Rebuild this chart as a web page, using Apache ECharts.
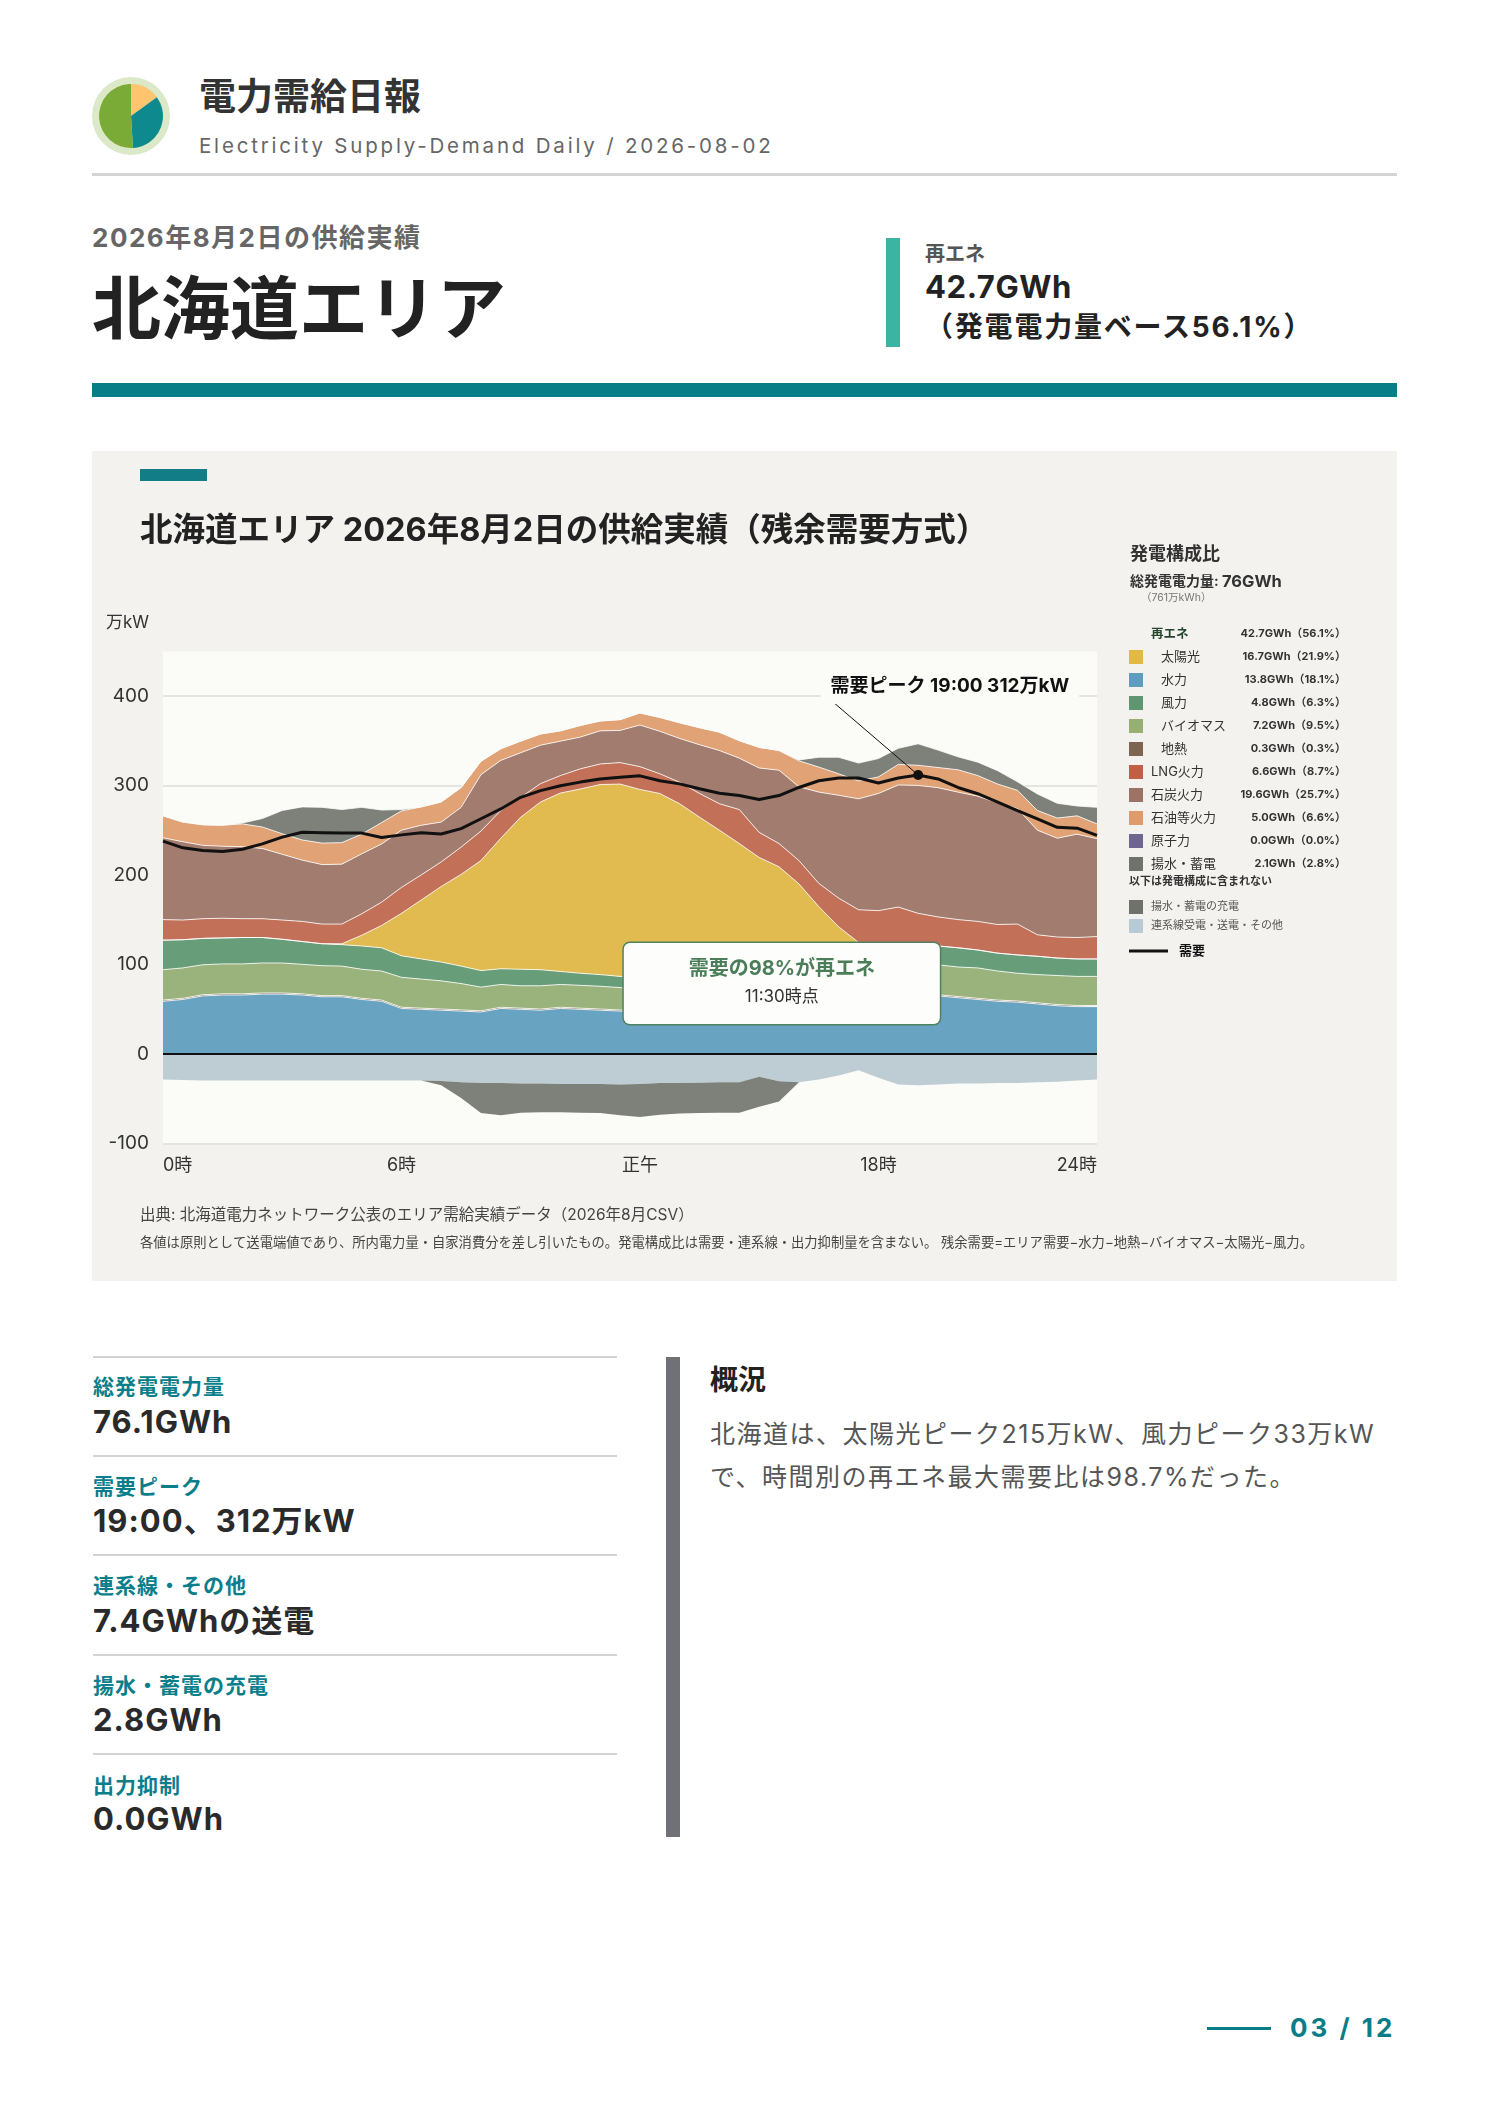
<!DOCTYPE html>
<html lang="ja">
<head>
<meta charset="utf-8">
<title>電力需給日報 北海道エリア 2026-08-02</title>
<script src="https://cdn.jsdelivr.net/npm/echarts@6.0.0/dist/echarts.min.js"></script>
<style>
  html, body { margin: 0; padding: 0; background: #fff; }
  body { position: relative; width: 1488px; height: 2105px; overflow: hidden;
         font-family: Inter, "Noto Sans CJK JP", sans-serif; color: #222; }
  .abs { position: absolute; white-space: nowrap; }
  .b { font-weight: 700; }
  .statLabel { left: 93px; font-size: 21px; line-height: 30px; letter-spacing: 1px; color: #0a7e8b; font-weight: 700; }
  .statValue { left: 93px; font-size: 31px; line-height: 40px; letter-spacing: 1px; color: #2a2a2a; font-weight: 700; }
  .rule { left: 93px; width: 524px; height: 2px; background: #d3d3d3; }
</style>
</head>
<body>

<!-- header -->
<div id="logo" class="abs" style="left:92px;top:77px;width:78px;height:78px;border-radius:50%;background:#dbe9c8;"></div>
<div class="abs b" style="left:199px;top:72px;font-size:37px;line-height:50px;color:#333;">電力需給日報</div>
<div class="abs" style="left:199px;top:131px;font-size:20.5px;line-height:30px;letter-spacing:2.8px;color:#666;">Electricity Supply-Demand Daily / 2026-08-02</div>
<div class="abs" style="left:92px;top:173px;width:1305px;height:3px;background:#d4d4d4;"></div>

<div class="abs b" style="left:92px;top:223px;font-size:26px;line-height:30px;letter-spacing:1.5px;color:#666;">2026年8月2日の供給実績</div>
<div class="abs b" style="left:92px;top:269px;font-size:69px;line-height:80px;color:#222;">北海道エリア</div>

<div class="abs" style="left:886px;top:238px;width:14px;height:109px;background:#3bb5a2;"></div>
<div class="abs b" style="left:925px;top:240px;font-size:20px;line-height:28px;color:#555;">再エネ</div>
<div class="abs b" style="left:925px;top:267px;font-size:31px;line-height:40px;letter-spacing:0.6px;color:#222;">42.7GWh</div>
<div class="abs b" style="left:925px;top:307px;font-size:28px;line-height:40px;letter-spacing:1.8px;color:#222;">（発電電力量ベース56.1%）</div>

<div class="abs" style="left:92px;top:383px;width:1305px;height:14px;background:#077d87;"></div>

<!-- chart panel -->
<div id="chart" class="abs" style="left:92px;top:451px;width:1305px;height:830px;"></div>

<!-- key figures -->
<div class="abs rule" style="top:1356px;"></div>
<div class="abs statLabel" style="top:1372px;">総発電電力量</div>
<div class="abs statValue" style="top:1402px;">76.1GWh</div>
<div class="abs rule" style="top:1455px;"></div>
<div class="abs statLabel" style="top:1472px;">需要ピーク</div>
<div class="abs statValue" style="top:1501px;">19:00、312万kW</div>
<div class="abs rule" style="top:1554px;"></div>
<div class="abs statLabel" style="top:1571px;">連系線・その他</div>
<div class="abs statValue" style="top:1601px;">7.4GWhの送電</div>
<div class="abs rule" style="top:1654px;"></div>
<div class="abs statLabel" style="top:1671px;">揚水・蓄電の充電</div>
<div class="abs statValue" style="top:1700px;">2.8GWh</div>
<div class="abs rule" style="top:1753px;"></div>
<div class="abs statLabel" style="top:1771px;">出力抑制</div>
<div class="abs statValue" style="top:1799px;">0.0GWh</div>

<div class="abs" style="left:666px;top:1357px;width:14px;height:480px;background:#707176;"></div>
<div class="abs b" style="left:710px;top:1362px;font-size:28px;line-height:36px;color:#222;">概況</div>
<div class="abs" style="left:710px;top:1413px;font-size:25px;line-height:43px;letter-spacing:1.5px;color:#555;">北海道は、太陽光ピーク215万kW、風力ピーク33万kW<br>で、時間別の再エネ最大需要比は98.7%だった。</div>

<div class="abs" style="left:1207px;top:2027px;width:64px;height:3px;background:#0a7d87;"></div>
<div class="abs b" style="left:1290px;top:2012px;font-size:26px;line-height:32px;letter-spacing:3px;color:#0a7d87;">03 / 12</div>

<script>
// half-hourly values, 万kW (0:00 ... 23:30)
const hydro = [59,61,65,66,66,67,67,66,64,64, 61,59,51,50,49,48,47,51,50,49, 51,50,49,48,47,48,49,50,51,52, 54,56,58,60,62,63,64,64,65,65, 63,61,59,58,56,54,53,53];
const geothermal = [1.3,1.3,1.3,1.3,1.3,1.3,1.3,1.3,1.3,1.3, 1.3,1.3,1.3,1.3,1.3,1.3,1.3,1.3,1.3,1.3, 1.3,1.3,1.3,1.3,1.3,1.3,1.3,1.3,1.3,1.3, 1.3,1.3,1.3,1.3,1.3,1.3,1.3,1.3,1.3,1.3, 1.3,1.3,1.3,1.3,1.3,1.3,1.3,1.3];
const biomass = [34,34,33.5,33.5,33.5,33.5,33.5,33,33.5,33, 32.5,32.5,33.5,32.5,31.5,29.5,26.5,25.5,25,26, 25.5,25.5,25.5,25,25,25,25,25.5,26,27, 28,29,30,31,32,33,33,33.5,33.5,33.5, 33,34,32.5,31,31.5,32.5,32.5,32.5];
const wind = [33,31.5,29.5,29,29.5,28.5,26.5,25.5,24.5,24, 26,26,24,22.5,21,19.5,18.5,17.5,18.5,18, 14.5,13.5,13,12.5,13,13,13.5,14,14.5,15, 15.5,16,16.5,17.5,18.5,19.5,20,20.5,21,21, 21.5,20,20,20.5,20.5,19.5,19.5,19.5];
const solar = [0,0,0,0,0,0,0,0,0,1, 12,25,47.5,66,84.5,102.5,123,146,170,187.5, 199.5,206,212.5,215,209.5,204,191,174,157.5,140, 121,107,84.5,55,28.5,8,0,0,0,0, 0,0,0,0,0,0,0,0];
const lng = [23,22,22,22,21,21,21.5,22.5,22,22, 24,26,29,28,27.5,30.5,33,31,22,20.5, 19.5,22.5,23,24,25.5,22,24,26.5,29.5,38, 28,26,26,26,32,36.5,42,45,36.5,32.5, 31.5,32,32,34.5,24,23.5,24,25];
const coal = [91.5,87.5,82,80.5,80.5,78.5,73.5,68.5,66.5,67, 67,65,64,55.5,44.5,44.5,63,56,50,43, 38.5,35.5,37,36,46.5,47.5,49,54.5,59.5,57.5, 72,82,82.5,102,115,124,131,136.5,143,144.5, 142.5,140,136,129,117,110.5,115.5,109.5];
const oil = [24.5,22,23,23.5,25.5,24,23,22.5,24,24, 22,24,21.5,20.5,22.5,22,15,13,13,12.5, 11.5,13,11,12,13.5,15.5,17.5,19,20.5,19.5, 23,22,29,28,24,20,18.5,23,22.5,22.5, 25,23,21,20.5,22,22.5,20.5,16.5];
const nuclear = [0,0,0,0,0,0,0,0,0,0, 0,0,0,0,0,0,0,0,0,0, 0,0,0,0,0,0,0,0,0,0, 0,0,0,0,0,0,0,0,0,0, 0,0,0,0,0,0,0,0];
const pumpGen = [0,0,0,0,1,9.5,26,37,40,37, 30,14,1.5,0,0,0,0,0,0,0, 0,0,0,0,0,0,0,0,0,0, 0,0,1,11,18.5,20,20.5,18,24,19.5, 14.5,15,15,9.5,18.5,16.5,11,18.5];
const transfer = [-28.5,-29,-29.5,-29.5,-29.5,-29.5,-29.5,-29.5,-29.5,-29.5, -29.5,-29.5,-29.5,-29.5,-30,-31.5,-32.5,-32.5,-33,-33, -33.5,-33.5,-33.5,-34,-33.5,-32.5,-32.5,-32,-31.5,-31.5, -25.5,-30.5,-31.5,-28.5,-24,-18,-26.5,-34,-35,-34, -33,-33,-32.5,-32.5,-31.5,-31,-29.5,-28.5];
const pumpCharge = [0,0,0,0,0,0,0,0,0,0, 0,0,0,0,-5,-17.5,-33.5,-36,-32.5,-32, -31.5,-32,-32.5,-34.5,-37,-35.5,-34,-34,-34,-34, -33.5,-22.5,0,0,0,0,0,0,0,0, 0,0,0,0,0,0,0,0];
const demand = [238,230.5,227.5,226.5,229,235,242.5,248,247.5,247, 247,242,245,247.5,246,252,263,274,287,294.5, 300,304,307.5,309.5,311,305.5,302,296.5,291.5,289, 284.5,289,298,305.5,308.5,308.5,303,308.5,312,307.5, 298,291,281.5,272,263,253.5,252.5,244.5];

// axis ticks
const xTickHours = [0, 6, 12, 18, 23.5];
const xTickLabels = ['0時', '6時', '正午', '18時', '24時'];

// generation mix legend (GWh, %)
const mixNames = ['太陽光', '水力', '風力', 'バイオマス', '地熱', 'LNG火力', '石炭火力', '石油等火力', '原子力', '揚水・蓄電'];
const mixGWh = [16.7, 13.8, 4.8, 7.2, 0.3, 6.6, 19.6, 5.0, 0.0, 2.1];
const mixPct = [21.9, 18.1, 6.3, 9.5, 0.3, 8.7, 25.7, 6.6, 0.0, 2.8];
const mixIsRenewable = [true, true, true, true, true, false, false, false, false, false];
const renewGWh = 42.7, renewPct = 56.1;
const excludedNames = ['揚水・蓄電の充電', '連系線受電・送電・その他'];

// peak and annotation
const peakHour = 19, peakValue = 312;

// logo pie shares
const logoShares = [15, 34, 51];

const FONT = 'Inter, "Noto Sans CJK JP", sans-serif';

const areaColors = {
  '水力': '#69a3c2', '地熱': '#7d6450', 'バイオマス': '#9ab37c', '風力': '#689d79',
  '太陽光': '#e1bb4f', 'LNG火力': '#c27057', '石炭火力': '#a27c6f', '石油等火力': '#e1a275',
  '原子力': '#6d6a8e', '揚水・蓄電': '#7e8179',
  '揚水・蓄電の充電': '#7e8179', '連系線受電・送電・その他': '#bdcdd3'
};
const swatchColors = {
  '太陽光': '#e1b944', '水力': '#5f9cbf', '風力': '#5f9671', 'バイオマス': '#95b071', '地熱': '#7d6551',
  'LNG火力': '#c15e46', '石炭火力': '#9d7366', '石油等火力': '#e09b6c', '原子力': '#6c6690',
  '揚水・蓄電': '#6f726a', '揚水・蓄電の充電': '#6f726a', '連系線受電・送電・その他': '#b8cbd4'
};

const hours = Array.from({ length: 48 }, (_, i) => i / 2);
const slots = hours.map(h => Math.floor(h) + ':' + (h % 1 ? '30' : '00'));

// logo
const logo = echarts.init(document.getElementById('logo'));
logo.setOption({
  animation: false,
  series: [{
    type: 'pie', radius: [0, 32], center: ['50%', '50%'], startAngle: 90, silent: true,
    label: { show: false }, labelLine: { show: false },
    data: logoShares.map((v, i) => ({ value: v, itemStyle: { color: ['#ffc46e', '#0e898e', '#7aab37'][i] } }))
  }]
});

// stacked supply layers (bottom to top)
const supplyLayers = [
  ['水力', hydro], ['地熱', geothermal], ['バイオマス', biomass], ['風力', wind], ['太陽光', solar],
  ['LNG火力', lng], ['石炭火力', coal], ['石油等火力', oil], ['原子力', nuclear], ['揚水・蓄電', pumpGen]
];
const outflowLayers = [['連系線受電・送電・その他', transfer], ['揚水・蓄電の充電', pumpCharge]];

const series = [];
supplyLayers.forEach(([name, data]) => {
  series.push({
    name, type: 'line', xAxisIndex: 0, stack: 'supply', data,
    symbol: 'none', silent: true, z: 2,
    lineStyle: { color: 'rgba(255,255,255,0.8)', width: name === '原子力' ? 0 : 1 },
    areaStyle: { color: areaColors[name], opacity: 1 }
  });
});
outflowLayers.forEach(([name, data]) => {
  series.push({
    name, type: 'line', xAxisIndex: 0, stack: 'outflow', data,
    symbol: 'none', silent: true, z: 2,
    lineStyle: { width: 0 },
    areaStyle: { color: areaColors[name], opacity: 1 }
  });
});
series.push({
  name: '需要', type: 'line', xAxisIndex: 1, data: demand.map((v, i) => [hours[i], v]),
  symbol: 'none', silent: true, z: 10,
  lineStyle: { color: '#111', width: 3 },
  markLine: {
    silent: true, symbol: ['none', 'none'], label: { show: false },
    data: [
      { yAxis: 0, lineStyle: { color: '#111', width: 2, type: 'solid' } },
      [{ coord: [16.9, 392], lineStyle: { color: '#111', width: 1, type: 'solid' } }, { coord: [peakHour, peakValue] }]
    ]
  },
  markPoint: {
    silent: true,
    data: [
      { coord: [peakHour, peakValue], symbol: 'circle', symbolSize: 10, itemStyle: { color: '#111' }, label: { show: false } },
      {
        coord: [19.8, 410.8], symbol: 'circle', symbolSize: 1, itemStyle: { color: 'rgba(0,0,0,0)' },
        label: {
          show: true, formatter: '需要ピーク 19:00 312万kW', fontFamily: FONT, fontSize: 19, fontWeight: 'bold',
          color: '#111', backgroundColor: '#fbfbf8', padding: [8, 10]
        }
      },
      {
        coord: [15.57, 78.8], symbol: 'circle', symbolSize: 1, itemStyle: { color: 'rgba(0,0,0,0)' },
        label: {
          show: true, formatter: '{a|需要の98%が再エネ}\n{b|11:30時点}', width: 316, align: 'center',
          backgroundColor: '#fdfdfb', borderColor: '#4f8160', borderWidth: 1.5, borderRadius: 6,
          padding: [12, 0, 13, 0],
          rich: {
            a: { fontFamily: FONT, fontSize: 20, fontWeight: 'bold', color: '#4b7d59', lineHeight: 28, align: 'center' },
            b: { fontFamily: FONT, fontSize: 17, color: '#333', lineHeight: 28, align: 'center' }
          }
        }
      }
    ]
  }
});

// legend block drawn as graphics
const txt = (x, y, text, o = {}) => ({
  type: 'text', x, y, silent: true,
  style: {
    text, fontFamily: FONT, fontSize: o.size || 13, fontWeight: o.weight || 'normal',
    fill: o.color || '#333', align: o.align || 'left', verticalAlign: 'middle', rich: o.rich
  }
});
const box = (x, y, w, h, fill) => ({ type: 'rect', silent: true, shape: { x, y, width: w, height: h }, style: { fill } });

const LX = 1037, VX = 1254;
const fmtMix = (g, p) => g.toFixed(1) + 'GWh（' + p.toFixed(1) + '%）';
const graphics = [
  box(48, 18, 67, 12, '#127d87'),
  txt(57, 172, '万kW', { size: 17, align: 'right', color: '#333' }),
  txt(LX + 1, 104, '発電構成比', { size: 18, weight: 'bold', color: '#333' }),
  txt(LX + 1, 131, '{a|総発電電力量: }{b|76GWh}', {
    rich: {
      a: { fontFamily: FONT, fontSize: 14, fontWeight: 'bold', fill: '#333' },
      b: { fontFamily: FONT, fontSize: 16.5, fontWeight: 'bold', fill: '#333' }
    }
  }),
  txt(LX + 12, 147, '（761万kWh）', { size: 10.5, color: '#777' }),
  txt(LX + 22, 183, '再エネ', { size: 12.5, weight: 'bold', color: '#24452c' }),
  txt(VX, 183, fmtMix(renewGWh, renewPct), { size: 11, weight: 'bold', align: 'right', color: '#333' })
];
mixNames.forEach((name, i) => {
  const y = 206 + i * 23;
  graphics.push(box(LX, y - 7, 14, 14, swatchColors[name]));
  graphics.push(txt(mixIsRenewable[i] ? LX + 32 : LX + 22, y, name, { size: 13, color: '#333' }));
  graphics.push(txt(VX, y, fmtMix(mixGWh[i], mixPct[i]), { size: 11, weight: 'bold', align: 'right', color: '#333' }));
});
graphics.push(txt(LX, 431, '以下は発電構成に含まれない', { size: 11, weight: 'bold', color: '#333' }));
excludedNames.forEach((name, i) => {
  const y = 456 + i * 19;
  graphics.push(box(LX, y - 7, 14, 14, swatchColors[name]));
  graphics.push(txt(LX + 22, y, name, { size: 11, color: '#555' }));
});
graphics.push({ type: 'line', silent: true, shape: { x1: LX, y1: 500, x2: LX + 39, y2: 500 }, style: { stroke: '#111', lineWidth: 3 } });
graphics.push(txt(LX + 50, 500, '需要', { size: 13, weight: 'bold', color: '#111' }));

// footnotes
graphics.push(txt(48, 764, '出典: 北海道電力ネットワーク公表のエリア需給実績データ（2026年8月CSV）', { size: 15.5, color: '#444' }));
graphics.push(txt(48, 792, '各値は原則として送電端値であり、所内電力量・自家消費分を差し引いたもの。発電構成比は需要・連系線・出力抑制量を含まない。 残余需要=エリア需要−水力−地熱−バイオマス−太陽光−風力。', { size: 13.3, color: '#444' }));

const chart = echarts.init(document.getElementById('chart'));
chart.setOption({
  animation: false,
  backgroundColor: '#f3f2ef',
  textStyle: { fontFamily: FONT },
  title: {
    text: '北海道エリア 2026年8月2日の供給実績（残余需要方式）',
    left: 48, top: 60, padding: 0,
    textStyle: { fontFamily: FONT, fontSize: 32.5, fontWeight: 'bold', color: '#222', lineHeight: 40 }
  },
  grid: { left: 71, right: 300, top: 200.5, bottom: 137.5, show: true, backgroundColor: '#fbfbf8', borderWidth: 0 },
  xAxis: [
    { type: 'category', data: slots, boundaryGap: false, show: false },
    {
      type: 'value', min: 0, max: 23.5, interval: 6, position: 'bottom',
      axisLine: { show: false }, axisTick: { show: false }, splitLine: { show: false },
      axisLabel: {
        fontSize: 18, color: '#333', margin: 12, lineHeight: 20,
        showMinLabel: true, showMaxLabel: true, alignMinLabel: 'left', alignMaxLabel: 'right',
        formatter: v => { const k = xTickHours.indexOf(v); return k >= 0 ? xTickLabels[k] : ''; }
      }
    }
  ],
  yAxis: {
    type: 'value', min: -100, max: 450, interval: 100,
    axisLine: { show: false }, axisTick: { show: false },
    splitLine: { show: true, showMaxLine: false, lineStyle: { color: '#dcdcd8', width: 1.5 } },
    axisLabel: { fontSize: 19, color: '#333', margin: 14, showMaxLabel: false }
  },
  graphic: graphics,
  series
});
</script>
</body>
</html>
